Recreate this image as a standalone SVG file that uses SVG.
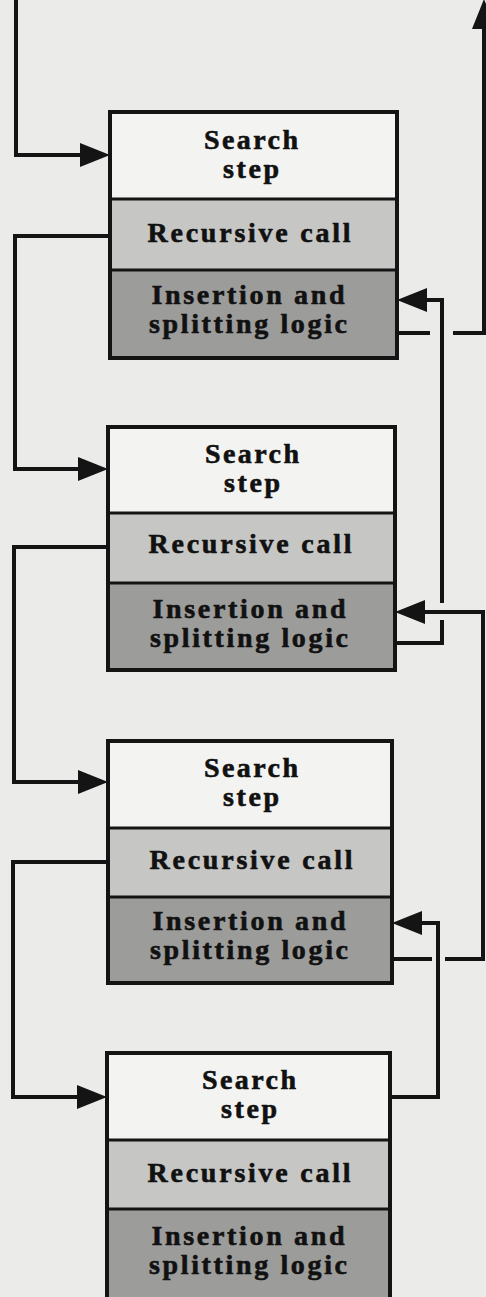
<svg xmlns="http://www.w3.org/2000/svg" width="486" height="1297" viewBox="0 0 486 1297">
  <defs>
    <style>
      .frame { stroke: #141414; stroke-width: 4; fill: none; }
      .div { stroke: #141414; stroke-width: 3; }
      .search { fill: #f3f3f1; }
      .rec { fill: #c6c6c5; }
      .ins { fill: #9c9c9b; }
      .lbl { font-family: "Liberation Serif", "Times New Roman", serif; font-weight: bold; font-size: 28px; fill: #111; stroke: #111; stroke-width: 0.6; text-anchor: middle; }
      .wire { stroke: #141414; stroke-width: 4; fill: none; stroke-linejoin: miter; }
    </style>
    <marker id="head" viewBox="0 0 30 24" refX="20" refY="12" markerWidth="30" markerHeight="24" markerUnits="userSpaceOnUse" orient="auto">
      <path d="M0,0 L30,12 L0,24 Z" fill="#141414"/>
    </marker>
  </defs>

  <!-- page -->
  <rect x="0" y="0" width="486" height="1297" fill="#ebebea"/>

  <!-- level 1 -->
  <g id="node1">
    <rect class="search" x="110" y="112" width="287" height="87"/>
    <rect class="rec" x="110" y="199" width="287" height="71"/>
    <rect class="ins" x="110" y="270" width="287" height="88"/>
    <line class="div" x1="110" y1="199" x2="397" y2="199"/>
    <line class="div" x1="110" y1="270" x2="397" y2="270"/>
    <rect class="frame" x="110" y="112" width="287" height="246"/>
    <text class="lbl" x="251" y="149" textLength="94" lengthAdjust="spacing">Search</text>
    <text class="lbl" x="251" y="178" textLength="56" lengthAdjust="spacing">step</text>
    <text class="lbl" x="249" y="242" textLength="203" lengthAdjust="spacing">Recursive call</text>
    <text class="lbl" x="248" y="304" textLength="193" lengthAdjust="spacing">Insertion and</text>
    <text class="lbl" x="248" y="333" textLength="198" lengthAdjust="spacing">splitting logic</text>
  </g>

  <!-- level 2 -->
  <g id="node2">
    <rect class="search" x="108" y="427" width="287" height="86"/>
    <rect class="rec" x="108" y="513" width="287" height="70"/>
    <rect class="ins" x="108" y="583" width="287" height="87"/>
    <line class="div" x1="108" y1="513" x2="395" y2="513"/>
    <line class="div" x1="108" y1="583" x2="395" y2="583"/>
    <rect class="frame" x="108" y="427" width="287" height="243"/>
    <text class="lbl" x="252" y="463" textLength="94" lengthAdjust="spacing">Search</text>
    <text class="lbl" x="252" y="492" textLength="56" lengthAdjust="spacing">step</text>
    <text class="lbl" x="250" y="553" textLength="203" lengthAdjust="spacing">Recursive call</text>
    <text class="lbl" x="249" y="618" textLength="193" lengthAdjust="spacing">Insertion and</text>
    <text class="lbl" x="249" y="647" textLength="198" lengthAdjust="spacing">splitting logic</text>
  </g>

  <!-- level 3 -->
  <g id="node3">
    <rect class="search" x="108" y="741" width="284" height="87"/>
    <rect class="rec" x="108" y="828" width="284" height="69"/>
    <rect class="ins" x="108" y="897" width="284" height="86"/>
    <line class="div" x1="108" y1="828" x2="392" y2="828"/>
    <line class="div" x1="108" y1="897" x2="392" y2="897"/>
    <rect class="frame" x="108" y="741" width="284" height="242"/>
    <text class="lbl" x="251" y="777" textLength="94" lengthAdjust="spacing">Search</text>
    <text class="lbl" x="251" y="806" textLength="56" lengthAdjust="spacing">step</text>
    <text class="lbl" x="251" y="869" textLength="203" lengthAdjust="spacing">Recursive call</text>
    <text class="lbl" x="249" y="930" textLength="193" lengthAdjust="spacing">Insertion and</text>
    <text class="lbl" x="249" y="959" textLength="198" lengthAdjust="spacing">splitting logic</text>
  </g>

  <!-- level 4 (runs off the lower edge) -->
  <g id="node4">
    <rect class="search" x="107" y="1053" width="283" height="87"/>
    <rect class="rec" x="107" y="1140" width="283" height="69"/>
    <rect class="ins" x="107" y="1209" width="283" height="100"/>
    <line class="div" x1="107" y1="1140" x2="390" y2="1140"/>
    <line class="div" x1="107" y1="1209" x2="390" y2="1209"/>
    <rect class="frame" x="107" y="1053" width="283" height="256"/>
    <text class="lbl" x="249" y="1089" textLength="94" lengthAdjust="spacing">Search</text>
    <text class="lbl" x="249" y="1118" textLength="56" lengthAdjust="spacing">step</text>
    <text class="lbl" x="249" y="1182" textLength="203" lengthAdjust="spacing">Recursive call</text>
    <text class="lbl" x="248" y="1245" textLength="193" lengthAdjust="spacing">Insertion and</text>
    <text class="lbl" x="248" y="1274" textLength="198" lengthAdjust="spacing">splitting logic</text>
  </g>

  <g id="connectors">
    <!-- calls down the left side -->
    <path class="wire" d="M16,0 V155 H100" marker-end="url(#head)"/>
    <path class="wire" d="M110,236 H15 V469 H98" marker-end="url(#head)"/>
    <path class="wire" d="M108,547 H14 V782 H98" marker-end="url(#head)"/>
    <path class="wire" d="M108,862 H13 V1097 H97" marker-end="url(#head)"/>

    <!-- returns up the right side, with breaks where lines cross -->
    <path class="wire" d="M397,333 H430"/>
    <path class="wire" d="M453,333 H484 V9" marker-end="url(#head)"/>

    <path class="wire" d="M395,643 H442 V620"/>
    <path class="wire" d="M442,603 V300 H407" marker-end="url(#head)"/>

    <path class="wire" d="M392,959 H432"/>
    <path class="wire" d="M445,959 H483 V612 H405" marker-end="url(#head)"/>

    <path class="wire" d="M390,1097 H438 V923 H402" marker-end="url(#head)"/>
  </g>
</svg>
